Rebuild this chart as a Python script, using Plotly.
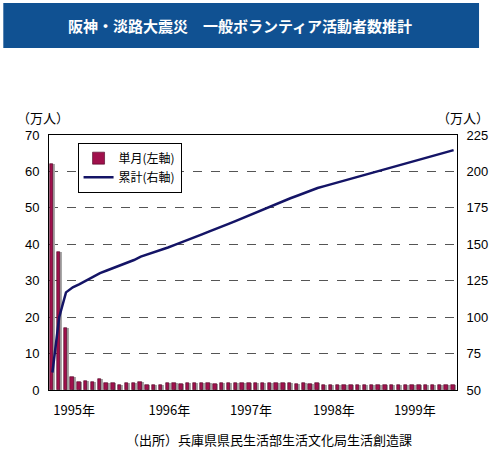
import plotly.graph_objects as go

# monthly estimates, Jan 1995 .. Dec 1999 (unit: 10,000 persons)
monthly = [62, 38, 17, 3.5, 2.1, 2.6, 2.1, 2.9, 1.8, 1.8, 1.5, 2.0,
           1.9, 2.3, 1.5, 1.5, 1.5, 1.8, 1.8, 1.7, 1.9, 1.8, 1.8, 1.9,
           1.7, 1.9, 1.9, 1.9, 2.0, 1.9, 2.0, 2.0, 1.9, 2.0, 1.9, 1.8,
           1.7, 1.8, 1.7, 1.8, 1.3, 1.3, 1.3, 1.3, 1.3, 1.3, 1.3, 1.3,
           1.3, 1.3, 1.3, 1.3, 1.3, 1.3, 1.3, 1.3, 1.3, 1.3, 1.3, 1.3]
cumulative = [62, 100, 117, 120.5, 122.6, 125.2, 127.3, 130.2, 132.0, 133.8, 135.3, 137.3,
              139.2, 141.5, 143.0, 144.5, 146.0, 147.8, 149.6, 151.3, 153.2, 155.0, 156.8, 158.7,
              160.4, 162.3, 164.2, 166.1, 168.1, 170.0, 172.0, 174.0, 175.9, 177.9, 179.8, 181.6,
              183.3, 185.1, 186.8, 188.6, 189.9, 191.2, 192.5, 193.8, 195.1, 196.4, 197.7, 199.0,
              200.3, 201.6, 202.9, 204.2, 205.5, 206.8, 208.1, 209.4, 210.7, 212.0, 213.3, 214.6]
months = list(range(len(monthly)))
year_labels = ["1995年", "1996年", "1997年", "1998年", "1999年"]
year_label_pos = [3.2, 17.2, 29.2, 41.4, 53.3]

jp = "Noto Sans CJK JP"
num = "Liberation Sans"

fig = go.Figure()

# grey drop shadow behind the bars
fig.add_trace(go.Bar(
    x=months, y=monthly, width=0.5, offset=-0.1,
    marker=dict(color="#a8a8a8", line=dict(width=0)),
    showlegend=False, hoverinfo="skip",
))
fig.add_trace(go.Bar(
    x=months, y=monthly, width=0.5, offset=-0.35,
    name="単月(左軸)",
    marker=dict(color="#a0104c", line=dict(color="#4a0020", width=0.6)),
))
fig.add_trace(go.Scatter(
    x=months, y=cumulative, yaxis="y2", mode="lines",
    name="累計(右軸)",
    line=dict(color="#141466", width=2.5),
))

fig.update_layout(
    width=500, height=466,
    margin=dict(l=49, r=41, t=135, b=76),
    paper_bgcolor="white", plot_bgcolor="white",
    barmode="overlay", bargap=0,
    font=dict(family=num, size=13, color="black"),
    xaxis=dict(
        range=[-0.5, 59.5], tickvals=year_label_pos, ticktext=year_labels,
        tickfont=dict(family=jp, size=13), ticks="", showgrid=False,
        showline=True, linecolor="black", linewidth=1, mirror=True,
        zeroline=False, ticklabelstandoff=8,
    ),
    yaxis=dict(
        range=[0, 70], dtick=10, showgrid=True, gridcolor="#555555",
        griddash="dash", gridwidth=1, zeroline=False,
        showline=True, linecolor="black", linewidth=1,
        ticks="", ticklabelstandoff=6,
    ),
    yaxis2=dict(
        range=[50, 225], dtick=25, overlaying="y", side="right",
        showgrid=False, zeroline=False,
        showline=True, linecolor="black", linewidth=1,
        ticks="", ticklabelstandoff=6,
    ),
    legend=dict(
        x=0.07, y=0.97, xanchor="left", yanchor="top",
        bgcolor="white", bordercolor="black", borderwidth=1,
        font=dict(family=jp, size=12), tracegroupgap=0,
        itemwidth=30,
    ),
    shapes=[dict(
        type="rect", xref="paper", yref="paper",
        x0=-0.112, x1=1.054, y0=1.341, y1=1.518,
        fillcolor="#105192", line=dict(width=0), layer="below",
    )],
    annotations=[
        dict(text="<b>阪神・淡路大震災　一般ボランティア活動者数推計</b>",
             xref="paper", yref="paper", x=0.468, y=1.43,
             xanchor="center", yanchor="middle",
             showarrow=False, font=dict(family=jp, size=15, color="white")),
        dict(text="（万人）", xref="paper", yref="paper", x=-0.015, y=1.067,
             xanchor="center", yanchor="middle", showarrow=False,
             font=dict(family=jp, size=13)),
        dict(text="（万人）", xref="paper", yref="paper", x=1.015, y=1.067,
             xanchor="center", yanchor="middle", showarrow=False,
             font=dict(family=jp, size=13)),
        dict(text="（出所）兵庫県県民生活部生活文化局生活創造課",
             xref="paper", yref="paper", x=0.539, y=-0.196,
             xanchor="center", yanchor="middle",
             showarrow=False, font=dict(family=jp, size=13)),
    ],
)

fig.write_html("out.html", config={"displayModeBar": False},
               post_script="document.body.style.margin='0';")
